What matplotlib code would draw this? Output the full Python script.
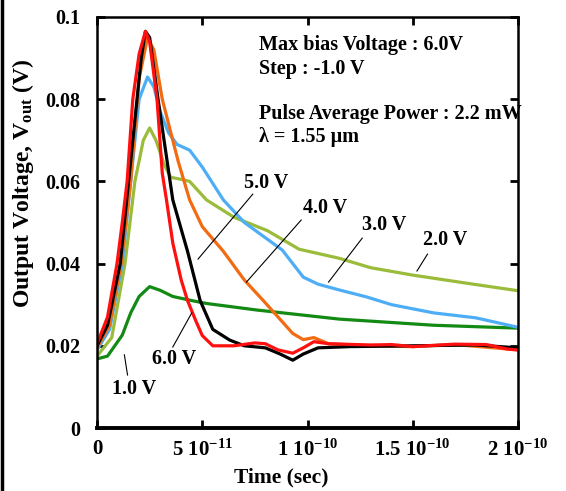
import matplotlib
matplotlib.use('Agg')
import matplotlib.pyplot as plt
from matplotlib.lines import Line2D

plt.rcParams['font.family'] = ['Liberation Serif', 'DejaVu Serif']
plt.rcParams['font.weight'] = 'bold'
plt.rcParams['mathtext.fontset'] = 'custom'
plt.rcParams['mathtext.rm'] = 'Liberation Serif:bold'
plt.rcParams['mathtext.it'] = 'Liberation Serif:bold'
plt.rcParams['mathtext.bf'] = 'Liberation Serif:bold'
plt.rcParams['mathtext.default'] = 'rm'

# time in units of 1e-11 s, voltage in V
t_6v = [0, 0.5, 0.95, 1.2, 1.43, 1.7, 2.0, 2.3, 2.5, 2.85, 3.1, 3.3, 3.6, 4.0, 4.3, 4.7,
        5.0, 5.5, 6.5, 7.5, 8.0, 8.6, 9.3, 9.8, 10.3, 11, 13, 14, 15, 17, 18.5, 19.5, 20]
v_6v = [0.0205, 0.027, 0.040, 0.050, 0.060, 0.080, 0.091, 0.0965, 0.094, 0.080, 0.062, 0.0555,
        0.045, 0.036, 0.031, 0.026, 0.0225, 0.020, 0.020, 0.0207, 0.0205, 0.019, 0.0182, 0.0195,
        0.021, 0.0205, 0.0202, 0.0203, 0.0198, 0.0204, 0.0203, 0.0192, 0.019]

t_5v = [0, 0.5, 1.1, 1.3, 1.5, 1.9, 2.1, 2.3, 2.5, 2.9, 3.3, 3.6, 4.3, 4.9, 5.5, 6.3, 7.0,
        8.0, 8.7, 9.3, 9.8, 10.5, 12, 15, 18, 20]
v_5v = [0.020, 0.025, 0.040, 0.050, 0.060, 0.080, 0.090, 0.0965, 0.095, 0.080, 0.066, 0.0555,
        0.043, 0.031, 0.024, 0.0214, 0.020, 0.0195, 0.018, 0.0165, 0.018, 0.0195, 0.0198,
        0.020, 0.0202, 0.0195]

t_4v = [0, 0.6, 1.15, 1.6, 2.0, 2.4, 2.7, 3.1, 3.85, 4.4, 5.0, 6.0, 7.0, 7.9, 8.6, 9.3, 9.8,
        10.3, 11, 13, 15, 17, 20]
v_4v = [0.0195, 0.025, 0.040, 0.060, 0.085, 0.095, 0.092, 0.080, 0.065, 0.0555, 0.049, 0.043,
        0.036, 0.031, 0.027, 0.023, 0.0215, 0.022, 0.0205, 0.020, 0.0198, 0.0203, 0.019]

t_3v = [0, 0.6, 1.2, 1.6, 2.0, 2.4, 2.7, 3.0, 3.4, 3.8, 4.4, 5.0, 6.0, 7.0, 7.7, 8.8, 9.8,
        10.5, 11.5, 12.8, 14, 16, 18, 20]
v_3v = [0.019, 0.024, 0.040, 0.060, 0.080, 0.0854, 0.083, 0.077, 0.0718, 0.069, 0.0676, 0.0635,
        0.0555, 0.050, 0.0474, 0.0433, 0.0367, 0.035, 0.0336, 0.0319, 0.030, 0.028, 0.0268, 0.0245]

t_2v = [0, 0.7, 1.33, 1.8, 2.2, 2.5, 2.8, 3.2, 3.5, 4.0, 4.4, 5.2, 6.5, 8.1, 9.6, 11.5, 13,
        15, 17.6, 20]
v_2v = [0.0175, 0.022, 0.040, 0.060, 0.070, 0.073, 0.070, 0.064, 0.061, 0.0605, 0.0600, 0.0555,
        0.0513, 0.048, 0.0435, 0.0413, 0.039, 0.0372, 0.0352, 0.0334]

t_1v = [0, 0.5, 1.2, 1.6, 2.0, 2.5, 3.0, 3.6, 4.5, 5.2, 7.6, 11.5, 16, 20]
v_1v = [0.0168, 0.0175, 0.0226, 0.028, 0.032, 0.0344, 0.0335, 0.032, 0.031, 0.0303, 0.0287,
        0.0265, 0.025, 0.0243]

x_ticks = [0, 5e-11, 1e-10, 1.5e-10, 2e-10]
x_labels = ['0', r'5 10$^{-11}$', r'1 10$^{-10}$', r'1.5 10$^{-10}$', r'2 10$^{-10}$']
y_ticks = [0, 0.02, 0.04, 0.06, 0.08, 0.1]
y_labels = ['0', '0.02', '0.04', '0.06', '0.08', '0.1']

series = [
    (t_1v, v_1v, '#138a13'),
    (t_2v, v_2v, '#9bbb3a'),
    (t_3v, v_3v, '#4daef5'),
    (t_4v, v_4v, '#f26b12'),
    (t_5v, v_5v, 'black'),
    (t_6v, v_6v, '#ff1010'),
]

fig = plt.figure(figsize=(5.66, 4.91), dpi=100)
ax = fig.add_axes([0.1714, 0.1283, 0.7438, 0.8371])

for t, v, c in series:
    ax.plot([x * 1e-11 for x in t], v, color=c, linewidth=2.3)

ax.set_xlim(0, 2e-10)
ax.set_ylim(0, 0.1)
ax.set_xticks(x_ticks)
ax.set_xticklabels(x_labels, fontsize=15)
ax.set_yticks(y_ticks)
ax.set_yticklabels(y_labels, fontsize=14.5)
ax.tick_params(direction='in', top=True, right=True, length=6, width=2)
ax.tick_params(axis='y', pad=12)
ax.tick_params(axis='x', pad=8)
for s in ax.spines.values():
    s.set_linewidth(1.8)
ax.spines['bottom'].set_linewidth(2.8)

ax.set_xlabel('Time (sec)', fontsize=15.5, fontweight='bold')
ax.xaxis.set_label_coords(0.438, -0.095)
ax.set_ylabel('Output Voltage, V$_{out}$ (V)', fontsize=17, fontweight='bold')
ax.yaxis.set_label_coords(-0.145, 0.594)

# info block
ax.text(0.385, 0.932, 'Max bias Voltage : 6.0V', transform=ax.transAxes, fontsize=14.5, va='center')
ax.text(0.385, 0.874, 'Step : -1.0 V', transform=ax.transAxes, fontsize=14.5, va='center')
ax.text(0.385, 0.764, 'Pulse Average Power : 2.2 mW', transform=ax.transAxes, fontsize=14.5, va='center')
ax.text(0.385, 0.709, 'λ = 1.55 μm', transform=ax.transAxes, fontsize=14.5, va='center')

# curve labels with leader lines (text pos, line start, line end) in data units
labels = [
    ('5.0 V', (7.0, 0.0595), (7.4, 0.0569), (4.8, 0.0411)),
    ('4.0 V', (9.8, 0.0535), (9.7, 0.0506), (7.1, 0.0355)),
    ('3.0 V', (12.6, 0.0495), (12.6, 0.0462), (11.0, 0.0355)),
    ('2.0 V', (15.5, 0.0458), (15.7, 0.0423), (15.2, 0.0382)),
    ('6.0 V', (2.6, 0.0168), (4.5, 0.0280), (3.6, 0.0197)),
    ('1.0 V', (0.7, 0.0095), (1.3, 0.0178), (1.45, 0.0129)),
]
for txt, (tx, ty), (x0, y0), (x1, y1) in labels:
    ax.text(tx * 1e-11, ty, txt, fontsize=14.5, va='center')
    ax.plot([x0 * 1e-11, x1 * 1e-11], [y0, y1], color='black', linewidth=0.8)

fig.add_artist(Line2D([0.003, 0.003], [0, 1], color='black', linewidth=2.5))

fig.savefig('out.png', dpi=100)
